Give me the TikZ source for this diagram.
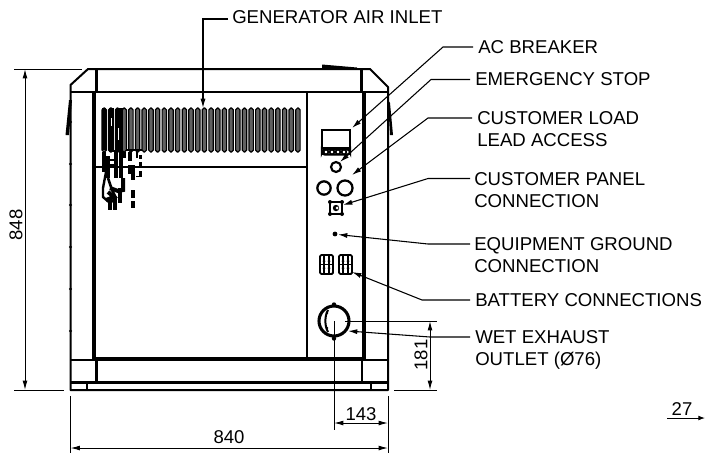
\documentclass[tikz,border=0pt]{standalone}
\usepackage{fontspec}
\setmainfont{Liberation Sans}
\usetikzlibrary{arrows.meta}
\definecolor{slotgray}{gray}{0.38}
\tikzset{
 lbl/.style={anchor=north west,inner sep=0pt,align=left,font=\fontsize{13.95}{16.5}\selectfont},
 dimtxt/.style={inner sep=0pt,font=\fontsize{13.9}{16.5}\selectfont},
 leader/.style={line width=0.8pt,-{Latex[length=7pt,width=3.8pt]}},
 dimline/.style={line width=0.7pt,{Latex[length=7pt,width=3.6pt]}-{Latex[length=7pt,width=3.6pt]}},
 extline/.style={line width=0.7pt},
 frame/.style={line width=1.5pt,line join=round},
 heavy/.style={line width=3pt},
 med/.style={line width=1.8pt},
 slot/.style={draw=black,line width=0.9pt,fill=slotgray,rounded corners=1.4pt},
 blot/.style={line width=1.5pt,black},
}
\begin{document}
\begin{tikzpicture}[x=0.75pt,y=-0.75pt]
\useasboundingbox (0,0) rectangle (705,455);
% louvres
\foreach \k in {0,...,29}{
  \pgfmathsetmacro{\xa}{102+\k*6.68}
  \pgfmathsetmacro{\xb}{\xa+4.4}
  \draw[slot] (\xa,108) rectangle (\xb,152);
}
% cabinet
\draw[frame] (70.5,390) -- (70.5,85) -- (88,69) -- (370,69) -- (388,87) -- (388,390) -- cycle;
\draw[frame] (70.5,92) -- (388,92);
\draw[med] (96.5,69) -- (96.5,92);
\draw[med] (361.5,69) -- (361.5,92);
\draw[heavy] (93.5,92) -- (93.5,359);
\draw[heavy] (364,92) -- (364,359);
\draw[med] (307,92) -- (307,358);
\draw[med] (96,167) -- (307,167);
\draw[heavy] (93.5,358.5) -- (364,358.5);
\draw[med] (70.5,360) -- (96.5,360) -- (96.5,383);
\draw[med] (388,360) -- (362,360) -- (362,383);
\draw[med] (70.5,382.5) -- (388,382.5);
\draw[med] (87,382.5) -- (87,390);
\draw[med] (371,382.5) -- (371,390);
% handles and top bump
\fill (69,100) -- (72,100) -- (69,135) -- (65.5,135) -- cycle;
\fill (388,100) -- (390,103) -- (393,135) -- (390,135) -- cycle;
\fill (322,64.5) -- (357,67.5) -- (357,69) -- (322,68) -- cycle;
\draw[line width=1.8pt] (205,69) -- (253,69);
\foreach \yy in {122,164,205,247,289,331}{\fill (70.5,\yy) circle (1.6);}
% blot of fine detail at the left of the louvres
\fill (102,108) rectangle (106,150);
\fill (108.5,108) rectangle (114,152);
\fill (116,108) rectangle (123,152);
\fill[white] (111,118) rectangle (112,126);
\fill[white] (118,128) rectangle (119,140);
\draw[line width=2.5pt] (116,150) -- (116,178);
\draw[line width=2.5pt] (121,150) -- (121,178);
\draw[line width=3pt] (104,152) -- (104,172);
\draw[line width=3pt] (107.5,156) -- (107.5,178);
\draw[blot] (105,160) -- (115,160);
\draw[blot] (110,165) -- (116,165);
\draw[line width=1.8pt] (106,172) -- (103,188) -- (103,197) -- (110,203) -- (116,198);
\draw[line width=2pt] (108,178) -- (112,190) -- (116,198);
\draw[line width=3pt] (110,188) -- (118,191) -- (123,190) -- (123,178);
\draw[line width=3pt] (108,192) -- (114,197) -- (106,200);
\draw[line width=3pt] (110,200) -- (110,210);
\draw[line width=3pt] (115,198) -- (115,210);
\draw[line width=2.5pt] (120,188) -- (120,203);
\draw[line width=2.5pt] (124,152) -- (124,158);
\draw[line width=3pt] (130,152) -- (130,161);
\draw[line width=1.5pt] (126,150) -- (142,150);
\draw[line width=3pt] (133,165) -- (133,180);
\draw[line width=3pt] (129.5,165) -- (129.5,174);
\draw[line width=2pt] (137,152) -- (137,158);
\draw[line width=2pt] (140.5,155) -- (140.5,159);
\draw[line width=2pt] (140.5,162) -- (140.5,168);
\draw[line width=2pt] (140.5,171) -- (140.5,177);
\draw[line width=1.2pt] (136,176.5) -- (142,176.5);
\draw[line width=3pt] (133,190) -- (133,198);
\draw[line width=3pt] (133,201) -- (133,208);
% control panel components
\draw[line width=1.3pt] (322,130) rectangle (350,148);
\draw[line width=2.2pt] (322,130) -- (322,148);
\draw[line width=1.6pt,fill=white,rounded corners=2pt] (322,149.5) rectangle (350,154.5);
\foreach \xx in {326,332,338,344}{\draw[line width=1.2pt,fill=white] (\xx,152) circle (2.3);}
\node[circle,draw,line width=1.6pt,minimum size=7.5pt,inner sep=0pt] (estop) at (336,167) {};
\node[circle,draw,line width=1.7pt,minimum size=10pt,inner sep=0pt] (loadA) at (324,188) {};
\node[circle,draw,line width=1.7pt,minimum size=11.3pt,inner sep=0pt] (loadB) at (345,188) {};
\draw[line width=1.5pt] (330,202) rectangle (342,214);
\foreach \xx/\yy in {330/202,342/202,330/214,342/214}{\fill (\xx,\yy) circle (2);}
\fill (336,208) circle (3.2); \fill[white] (337.2,208) circle (1.5);
\fill (335,234) circle (2.4);
\foreach \xx in {320,339}{
  \draw[line width=1.4pt,rounded corners=1pt] (\xx,255) rectangle ++(13,19);
  \draw[line width=0.9pt] (\xx+4,255) -- ++(0,19) (\xx+9,255) -- ++(0,19);
  \draw[line width=0.9pt] (\xx,264.5) -- ++(13,0);
  \fill (\xx+4,261) circle (1.5) (\xx+9,261) circle (1.5) (\xx+4,268) circle (1.5) (\xx+9,268) circle (1.5);
}
% exhaust
\node[circle,draw,line width=2.3pt,minimum size=22.5pt,inner sep=0pt] (exh) at (334,321) {};
\fill (334,304.5) circle (2.2) (334,338.5) circle (2.2);
\draw[line width=1.5pt] (328,310) .. controls (324.5,316) and (324.5,326) .. (328,332);
\fill (327,313) circle (1.4) (327,328) circle (1.4);
% labels
\node[lbl,anchor=west] (ginlet) at (232,17) {GENERATOR AIR INLET};
\node[lbl,anchor=west] (acb) at (478,47) {AC BREAKER};
\node[lbl,anchor=west] (estopL) at (475,79) {EMERGENCY STOP};
\node[lbl] (loadL) at (477,111.5) {CUSTOMER LOAD\\LEAD ACCESS};
\node[lbl] (panelL) at (474,172) {CUSTOMER PANEL\\CONNECTION};
\node[lbl] (groundL) at (474,237.5) {EQUIPMENT GROUND\\CONNECTION};
\node[lbl,anchor=west] (battL) at (475,300) {BATTERY CONNECTIONS};
\node[lbl] (wetL) at (475,330.5) {WET EXHAUST\\OUTLET (Ø76)};
% leader anchors
\coordinate (tInlet) at (203,108);
\coordinate (tAC) at (352,128);
\coordinate (tStop) at (340,162);
\coordinate (tLoad) at (352,175);
\coordinate (tPanel) at (343,205);
\coordinate (tGround) at (338,234.5);
\coordinate (tBatt) at (352,272);
\coordinate (tWet) at (348,331);
\coordinate (sLoad) at (472,118);
\coordinate (sPanel) at (470,178.5);
\coordinate (sGround) at (470,244);
\coordinate (sWet) at (470,337);
\draw[leader] (ginlet.west) ++(-4,2) -- (203,19) -- (tInlet);
\draw[leader] (acb.west) ++(-5,0) -- (443,47) -- (tAC);
\draw[leader] (estopL.west) ++(-5,0.5) -- (431,79.5) -- (tStop);
\draw[leader] (sLoad) -- (428,118) -- (tLoad);
\draw[leader] (sPanel) -- (428,178.5) -- (tPanel);
\draw[leader] (sGround) -- (428,244) -- (tGround);
\draw[leader] (battL.west) ++(-5,0) -- (422,300) -- (tBatt);
\draw[leader] (sWet) -- (430,337) -- (tWet);
% dimension 848
\coordinate (d848a) at (25,69); \coordinate (d848b) at (25,390);
\draw[extline] (14,69) -- (82,69) (14,390) -- (64,390);
\draw[dimline] (d848a) -- (d848b);
\node[dimtxt,rotate=90] (t848) at (16,225) {848};
% dimension 840
\coordinate (d840a) at (70.5,448); \coordinate (d840b) at (388,448);
\draw[extline] (70.5,396) -- (70.5,453) (388,396) -- (388,453);
\draw[dimline] (d840a) -- (d840b);
\node[dimtxt] (t840) at (229,437) {840};
% dimension 181
\coordinate (d181a) at (430,321); \coordinate (d181b) at (430,390);
\draw[extline] (345,321) -- (437,321) (394,390) -- (437,390);
\draw[dimline] (d181a) -- (d181b);
\node[dimtxt,rotate=90] (t181) at (421,355) {181};
% dimension 143
\coordinate (d143a) at (334,423); \coordinate (d143b) at (388,423);
\draw[extline] (334,321) -- (334,430);
\draw[dimline] (d143a) -- (d143b);
\node[dimtxt] (t143) at (361,414) {143};
% dimension 27
\coordinate (d27a) at (667,418); \coordinate (d27b) at (705,418);
\draw[line width=0.7pt,-{Latex[length=5pt,width=3.6pt]}] (d27a) -- (d27b);
\node[dimtxt] (t27) at (682,409) {27};
\end{tikzpicture}
\end{document}
